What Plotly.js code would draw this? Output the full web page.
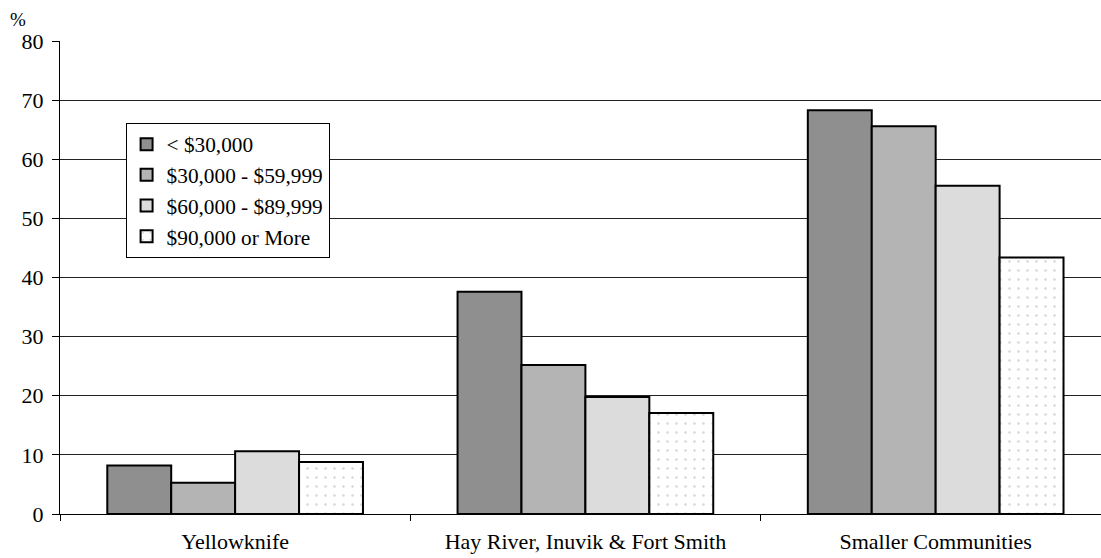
<!DOCTYPE html>
<html>
<head>
<meta charset="utf-8">
<script src="https://cdn.plot.ly/plotly-3.0.1.min.js"></script>
<style>
html,body{margin:0;padding:0;overflow:hidden;background:#fff;}
#chart{width:1101px;height:558px;}
</style>
</head>
<body>
<div id="chart"></div>
<script>
const categories = ["Yellowknife", "Hay River, Inuvik & Fort Smith", "Smaller Communities"];
const seriesNames = ["< $30,000", "$30,000 - $59,999", "$60,000 - $89,999", "$90,000 or More"];
const under30k = [8.2, 37.6, 68.3];
const from30to60k = [5.3, 25.2, 65.6];
const from60to90k = [10.6, 19.8, 55.5];
const over90k = [8.8, 17.1, 43.4];
const yTicks = [0, 10, 20, 30, 40, 50, 60, 70, 80];

const seriesValues = [under30k, from30to60k, from60to90k, over90k];
const fills = ["#8f8f8f", "#b4b4b4", "#dcdcdc", "#fcfcfc"];

const traces = seriesNames.map((name, i) => {
  const marker = {color: fills[i], line: {color: "#000", width: 2}};
  if (i === 3) marker.pattern = {shape: ".", fgcolor: "#d6d6d6", bgcolor: "#ffffff", size: 9, solidity: 0.06};
  return {type: "bar", name: name, x: categories, y: seriesValues[i], marker: marker};
});

const FAM = "Liberation Serif";
const f = (size) => ({family: FAM, size: size, color: "#000"});

const layout = {
  width: 1101, height: 558,
  margin: {l: 60, r: 0, t: 41, b: 44},
  paper_bgcolor: "#fff", plot_bgcolor: "#fff",
  font: f(22),
  barmode: "group",
  bargap: 0.27, bargroupgap: 0,
  showlegend: true,
  legend: {
    x: 0.063, y: 0.827, xanchor: "left", yanchor: "top",
    bgcolor: "#fff", bordercolor: "#000", borderwidth: 1,
    font: f(21.3),
    tracegroupgap: 0, itemwidth: 30
  },
  xaxis: {
    type: "category",
    range: [-0.5, 2.472],
    showline: true, linecolor: "#000", linewidth: 1,
    ticks: "outside", tickson: "boundaries", ticklen: 6, tickcolor: "#000",
    ticklabelstandoff: 8,
    showgrid: false, zeroline: false,
    tickfont: f(22)
  },
  yaxis: {
    range: [0, 80], tickvals: yTicks, ticktext: yTicks.map(String),
    showline: true, linecolor: "#000", linewidth: 1,
    ticks: "outside", ticklen: 7, tickcolor: "#000",
    ticklabelstandoff: 4,
    showgrid: true, gridcolor: "#222", gridwidth: 1,
    zeroline: false,
    tickfont: f(22)
  },
  annotations: [{
    text: "%", xref: "paper", yref: "paper", x: -0.04, y: 1.018,
    xanchor: "center", yanchor: "bottom", showarrow: false,
    font: f(19)
  }]
};

Plotly.newPlot("chart", traces, layout, {displayModeBar: false, staticPlot: true});
</script>
</body>
</html>
